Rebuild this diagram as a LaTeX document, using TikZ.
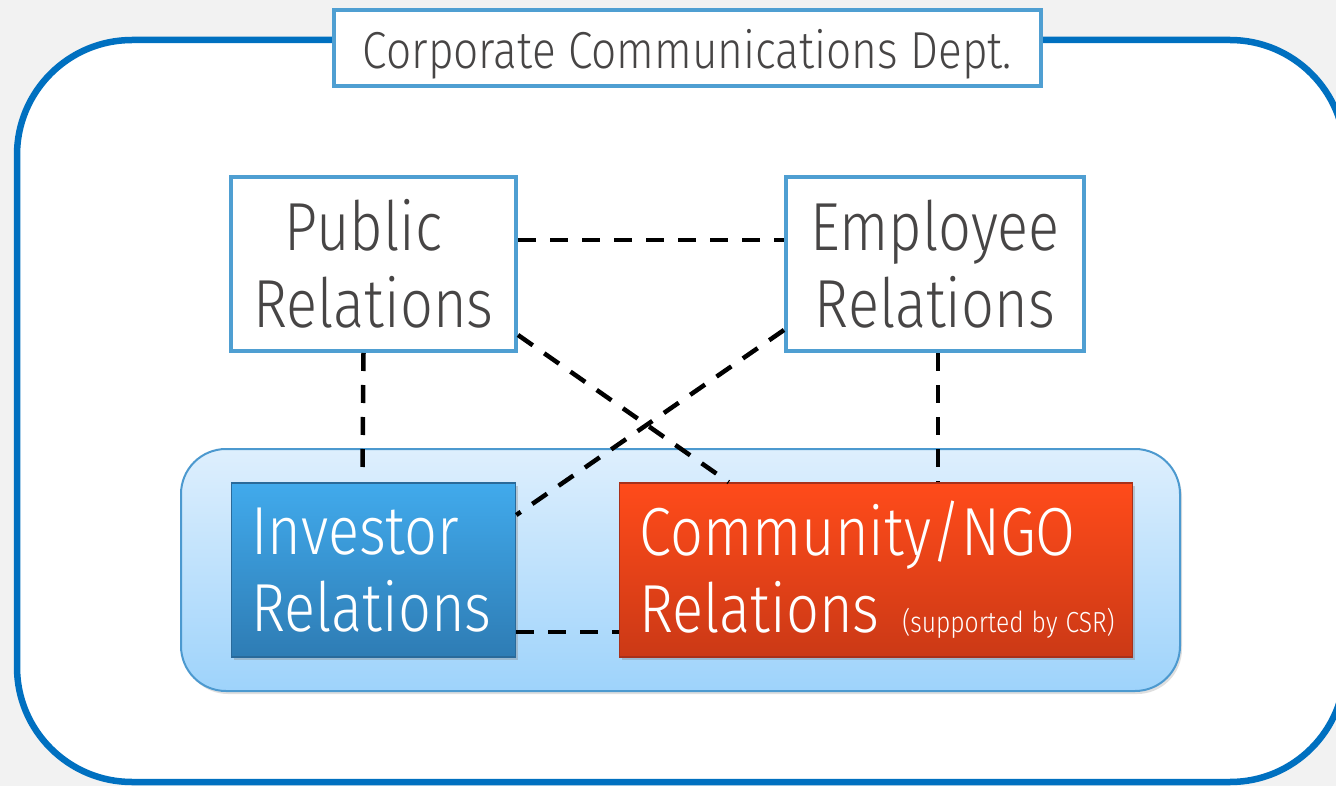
\documentclass[tikz,border=0pt]{standalone}
\usepackage{fontspec}
\setmainfont{Fira Sans}[UprightFont={* Light},FakeStretch=0.85]
\usetikzlibrary{positioning,calc,shadows}

\definecolor{bggray}{HTML}{F2F2F2}
\definecolor{frameblue}{HTML}{0070C0}
\definecolor{boxline}{HTML}{4F9FD2}
\definecolor{txtgray}{HTML}{474545}
\definecolor{teamtop}{HTML}{DEEFFD}
\definecolor{teambot}{HTML}{9ED3FB}
\definecolor{teamline}{HTML}{4C99CF}
\definecolor{irtop}{HTML}{41AAEC}
\definecolor{irbot}{HTML}{2E7CB4}
\definecolor{irline}{HTML}{2A6A9A}
\definecolor{crtop}{HTML}{FF4B1A}
\definecolor{crbot}{HTML}{CB3916}
\definecolor{crline}{HTML}{A8301A}

\begin{document}
\begin{tikzpicture}[x=1pt,y=-1pt,node distance=2cm,on grid,
    frame/.style={draw=frameblue,line width=6.5pt,fill=white,rounded corners=115pt},
    box/.style={draw=boxline,line width=4pt,fill=white,text=txtgray,align=center,
      minimum height=174pt,font=\fontsize{68}{77}\selectfont},
    team/.style={draw=teamline,line width=2pt,top color=teamtop,bottom color=teambot,
      rounded corners=45pt,minimum width=999pt,minimum height=242pt,
      drop shadow={shadow xshift=2pt,shadow yshift=-3pt,opacity=0.25}},
    unit/.style={text=white,align=left,line width=1.5pt,minimum height=174pt,
      inner xsep=20pt,font=\fontsize{68}{77}\selectfont,
      drop shadow={shadow xshift=2pt,shadow yshift=-3pt,opacity=0.35}},
    link/.style={draw=black,line width=4.5pt,dash pattern=on 18pt off 14pt}]
    \fill[bggray] (0,0) rectangle (1336,786);
    \useasboundingbox (0,0) rectangle (1336,786);
    \draw[frame] (17,40) rectangle (1345,782);
    \node[draw=boxline,line width=4pt,fill=white,text=txtgray,minimum width=707pt,
      minimum height=76pt,text height=44pt,text depth=2pt,
      font=\fontsize{52}{52}\selectfont] (dept) at (687.5,48)
      {Corporate Communications Dept.};
    \node[team] (group) at (680.5,570) {};
    \node[box,minimum width=285pt] (pr) at (373.5,264) {Public\hspace*{20pt}\\Relations};
    \node[box,minimum width=298pt] (er) [right=561.5pt of pr] {Employee\\Relations};
    \node[unit,draw=irline,top color=irtop,bottom color=irbot,text width=244pt]
      (ir) [below=306pt of pr] {Investor\\Relations};
    \node[unit,draw=crline,top color=crtop,bottom color=crbot,text width=473pt]
      (cr) [right=502.5pt of ir]
      {Community/NGO\\\mbox{Relations {\fontsize{29}{29}\selectfont\spaceskip=8pt (supported by CSR)}}};
    \coordinate (erdrop) at ($(er.south)+(3,0)$);
    \path[link] ($(pr.east)+(0,-24)$) edge ($(er.west)+(0,-24)$)
                ($(pr.south)+(-10,0)$) edge ($(ir.north)+(-11,-9)$)
                (erdrop)               edge (erdrop |- cr.north)
                ($(pr.east)+(0,71)$)   edge ($(cr.north west)+(110,0)$)
                ($(er.west)+(0,66)$)   edge ($(ir.east)+(0,-55)$)
                ($(ir.east)+(0,62)$)   edge ($(cr.west)+(0,62)$);
\end{tikzpicture}
\end{document}
